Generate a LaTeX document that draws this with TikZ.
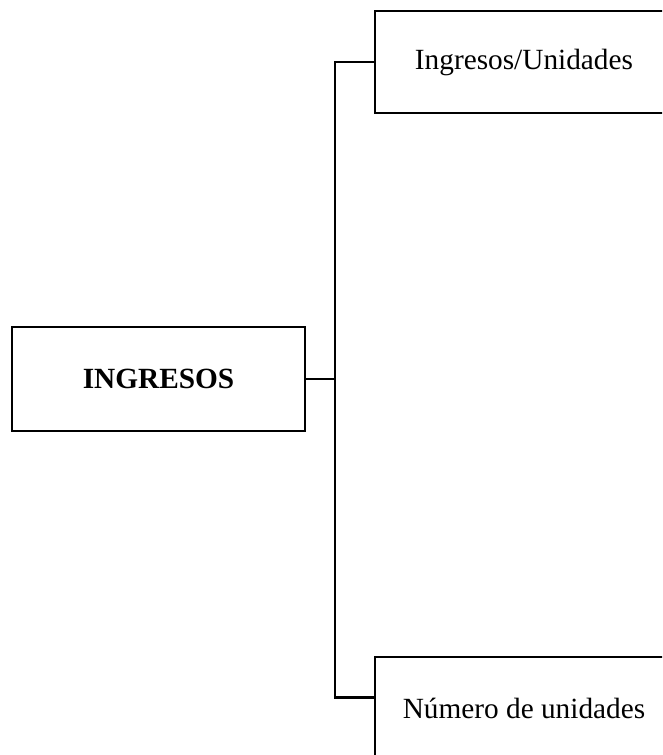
\documentclass[tikz,border=0pt]{standalone}
\usepackage{fontspec}
\setmainfont{Liberation Serif}
\usetikzlibrary{calc}
\tikzset{
  box/.style={draw=black, line width=2.8pt, rectangle, inner sep=0pt, font=\fontsize{29.3}{35}\selectfont},
  conn/.style={draw=black, line width=2.6pt}
}
\begin{document}
\begin{tikzpicture}[x=1pt,y=-1pt]
\useasboundingbox (0,0) rectangle (662,755);
\clip (0,0) rectangle (662,755);
\node[box, minimum width=293pt, minimum height=104pt] (ing) at (158.5,379) {\textbf{INGRESOS}};
\node[box, minimum width=298pt, minimum height=102pt] (top) at (524,62) {Ingresos/Unidades};
\node[box, minimum width=298pt, minimum height=102pt] (bot) at (524,708) {Número de unidades};
\coordinate (j) at (335,379);
\coordinate (bcon) at ($(bot.north west)!0.402!(bot.south west)$);
\draw[conn] (ing.east) -- (j);
\draw[conn] (top.west) -- (top.west -| j) -- (bcon -| j) -- (bcon);
\end{tikzpicture}
\end{document}
